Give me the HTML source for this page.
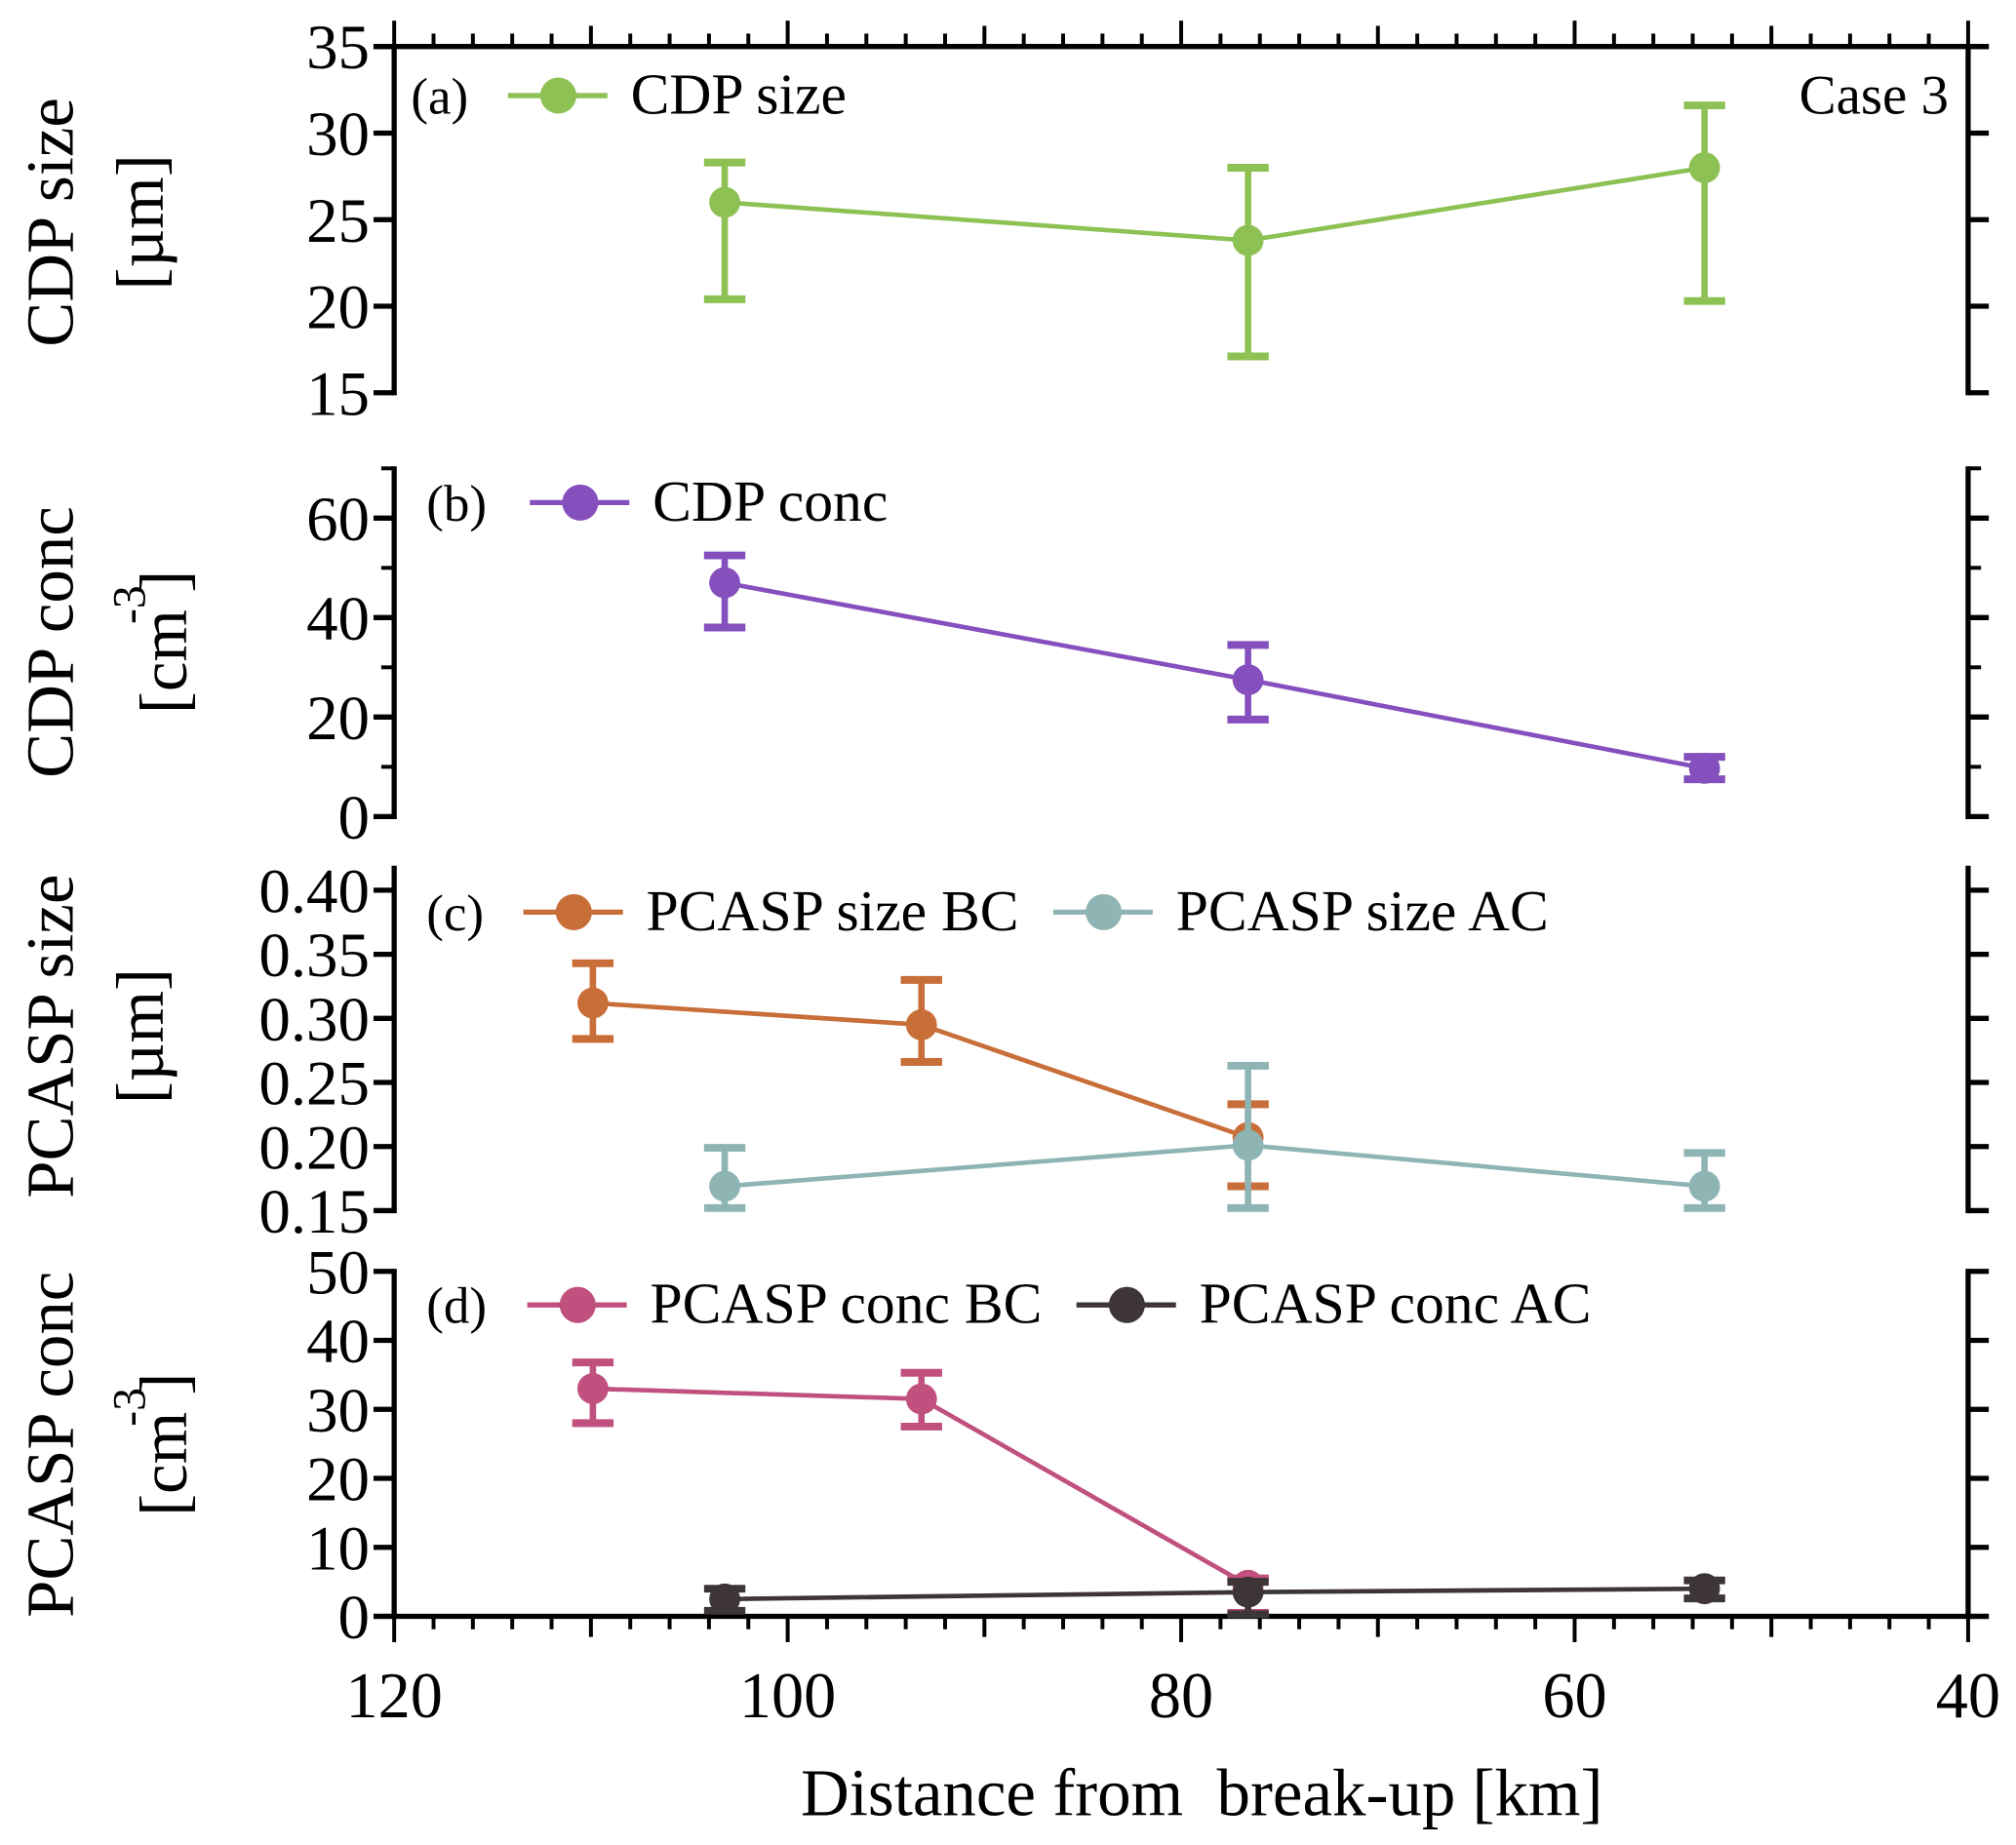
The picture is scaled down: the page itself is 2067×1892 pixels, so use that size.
<!DOCTYPE html>
<html><head><meta charset="utf-8"><style>
html,body{margin:0;padding:0;background:#fff;}
svg{display:block;font-family:"Liberation Serif",serif;}
</style></head><body>
<svg id="chart" width="2067" height="1892" viewBox="0 0 1560 1428" xmlns="http://www.w3.org/2000/svg">
<text x="930" y="1405" font-size="52" text-anchor="middle" xml:space="preserve">Distance from  break-up [km]</text>
</svg>
<script>
const xCats = [109.9, 103.2, 93.2, 76.6, 53.4];
const xTicks = [120, 100, 80, 60, 40];
const cdpSizeX = [103.2, 76.6, 53.4];
const cdpSizeY = [26, 23.8, 28];
const cdpSizeHi = [28.3, 28, 31.6];
const cdpSizeLo = [20.4, 17.1, 20.3];
const cdpConcX = [103.2, 76.6, 53.4];
const cdpConcY = [47, 27.5, 9.7];
const cdpConcHi = [52.5, 34.5, 12];
const cdpConcLo = [38, 19.5, 7.5];
const pSizeBCX = [109.9, 93.2, 76.6];
const pSizeBCY = [0.312, 0.295, 0.207];
const pSizeBCHi = [0.343, 0.330, 0.233];
const pSizeBCLo = [0.284, 0.266, 0.169];
const pSizeACX = [103.2, 76.6, 53.4];
const pSizeACY = [0.169, 0.201, 0.169];
const pSizeACHi = [0.199, 0.263, 0.195];
const pSizeACLo = [0.152, 0.152, 0.152];
const pConcBCX = [109.9, 93.2, 76.6];
const pConcBCY = [33, 31.5, 4.5];
const pConcBCHi = [36.8, 35.3, 5.5];
const pConcBCLo = [28, 27.5, 0.5];
const pConcACX = [103.2, 76.6, 53.4];
const pConcACY = [2.5, 3.5, 4];
const pConcACHi = [4, 5, 5.2];
const pConcACLo = [0.8, 0.3, 2.6];
const ticksA = [15, 20, 25, 30, 35];
const ticksB = [0, 20, 40, 60];
const ticksC = [0.15, 0.20, 0.25, 0.30, 0.35, 0.40];
const ticksD = [0, 10, 20, 30, 40, 50];

const NS = "http://www.w3.org/2000/svg";
const svg = document.getElementById('chart');
const X0 = 305, X1 = 1523;
function xs(v){ return X0 + (120 - v) * (X1 - X0) / 80; }
function mk(tag, attrs, parent){ const e = document.createElementNS(NS, tag); for (const k in attrs) e.setAttribute(k, attrs[k]); (parent||svg).appendChild(e); return e; }

const panels = [
 {name:'a', top:36, bot:304, vmin:15, vmax:35, ticks:ticksA, minor:[], fmt:v=>String(v)},
 {name:'b', top:363, bot:632, vmin:0, vmax:60, ticks:ticksB, minor:[10,30,50,70], fmt:v=>String(v)},
 {name:'c', top:672, bot:937, vmin:0.15, vmax:0.40, ticks:ticksC, minor:[], fmt:v=>v.toFixed(2)},
 {name:'d', top:984, bot:1251, vmin:0, vmax:50, ticks:ticksD, minor:[], fmt:v=>String(v)}
];
const vmaxPix = {a:36, b:401, c:689, d:984};
panels.forEach(p=>{
  const yb = p.bot, yt = vmaxPix[p.name];
  p.ys = v => yb - (v - p.vmin) * (yb - yt) / (p.vmax - p.vmin);
});

panels.forEach(p=>{
  const g = mk('g', {});
  
  
  mk('line', {x1:X0, y1:p.top-2, x2:X0, y2:p.bot+2, stroke:'#000', 'stroke-width':4}, g);
  mk('line', {x1:X1, y1:p.top-2, x2:X1, y2:p.bot+2, stroke:'#000', 'stroke-width':4}, g);
  p.ticks.forEach(t=>{
    const y = p.ys(t);
    mk('line', {x1:X0-16, y1:y, x2:X0, y2:y, stroke:'#000', 'stroke-width':4}, g);
    mk('line', {x1:X1, y1:y, x2:X1+16, y2:y, stroke:'#000', 'stroke-width':4}, g);
    const tx = mk('text', {x:X0-19, y:y+17, 'font-size':49, 'text-anchor':'end'}, g);
    tx.textContent = p.fmt(t);
    
    
  });
  p.minor.forEach(t=>{
    const y = p.ys(t);
    mk('line', {x1:X0-10, y1:y, x2:X0, y2:y, stroke:'#000', 'stroke-width':3}, g);
    mk('line', {x1:X1, y1:y, x2:X1+10, y2:y, stroke:'#000', 'stroke-width':3}, g);
  });
});
function xAxis(y, dir, labels){
  const g = mk('g', {});
  
  
  mk('line', {x1:X0-16, y1:y, x2:X1+16, y2:y, stroke:'#000', 'stroke-width':4}, g);
  for (let v = 120; v >= 40; v -= 2){
    const len = (v % 20 === 0) ? 20 : (v % 10 === 0 ? 16 : 10);
    mk('line', {x1:xs(v), y1:y, x2:xs(v), y2:y + dir*len, stroke:'#000', 'stroke-width':3}, g);
  }
  if (labels) xTicks.forEach(v=>{
    const t = mk('text', {x:xs(v), y:y+78, 'font-size':50, 'text-anchor':'middle'}, g);
    t.textContent = v;
    
    
  });
}
xAxis(36, -1, false);
xAxis(1251, 1, true);

function series(p, xsArr, ys, hi, lo, color, name){
  const g = mk('g', {});
  
  
  const pts = xsArr.map((x,i)=> xs(x) + ',' + p.ys(ys[i])).join(' ');
  mk('polyline', {points:pts, fill:'none', stroke:color, 'stroke-width':3.5}, g);
  xsArr.forEach((x,i)=>{
    const cx = xs(x), yh = p.ys(hi[i]), yl = p.ys(lo[i]);
    mk('line', {x1:cx, y1:yh, x2:cx, y2:yl, stroke:color, 'stroke-width':5}, g);
    mk('line', {x1:cx-16, y1:yh, x2:cx+16, y2:yh, stroke:color, 'stroke-width':6}, g);
    mk('line', {x1:cx-16, y1:yl, x2:cx+16, y2:yl, stroke:color, 'stroke-width':6}, g);
    const c = mk('circle', {cx:cx, cy:p.ys(ys[i]), r:12, fill:color}, g);
    
    
  });
}
const C = {green:'#8dc154', purple:'#8550bd', orange:'#c86e38', teal:'#8fb4b4', pink:'#c0507e', dark:'#3e3636'};
series(panels[0], cdpSizeX, cdpSizeY, cdpSizeHi, cdpSizeLo, C.green, 'cdp-size');
series(panels[1], cdpConcX, cdpConcY, cdpConcHi, cdpConcLo, C.purple, 'cdp-conc');
series(panels[2], pSizeBCX, pSizeBCY, pSizeBCHi, pSizeBCLo, C.orange, 'pcasp-size-bc');
series(panels[2], pSizeACX, pSizeACY, pSizeACHi, pSizeACLo, C.teal, 'pcasp-size-ac');
series(panels[3], pConcBCX, pConcBCY, pConcBCHi, pConcBCLo, C.pink, 'pcasp-conc-bc');
series(panels[3], pConcACX, pConcACY, pConcACHi, pConcACLo, C.dark, 'pcasp-conc-ac');

function label(x, y, txt, size, name, anchor){
  const t = mk('text', {x:x, y:y, 'font-size':size, 'text-anchor':anchor||'start'});
  t.textContent = txt;
  
  
  return t;
}
function legend(x, y, color, txt, name){
  const g = mk('g', {});
  
  
  mk('line', {x1:x, y1:y, x2:x+77, y2:y, stroke:color, 'stroke-width':4}, g);
  mk('circle', {cx:x+39, cy:y, r:14, fill:color}, g);
  const t = mk('text', {x:x+95, y:y+14, 'font-size':45, 'xml:space':'preserve'}, g);
  t.textContent = txt;
}
label(318, 88, '(a)', 40, 'panel-a-label');
legend(393, 74, C.green, 'CDP  size', 'cdp-size');
label(1508, 88, 'Case 3', 43, 'case-label', 'end');
label(330, 403, '(b)', 40, 'panel-b-label');
legend(410, 389, C.purple, 'CDP  conc', 'cdp-conc');
label(330, 720, '(c)', 40, 'panel-c-label');
legend(405, 706, C.orange, 'PCASP size BC', 'pcasp-size-bc');
legend(815, 706, C.teal, 'PCASP size AC', 'pcasp-size-ac');
label(330, 1024, '(d)', 40, 'panel-d-label');
legend(408, 1010, C.pink, 'PCASP  conc  BC', 'pcasp-conc-bc');
legend(833, 1010, C.dark, 'PCASP  conc  AC', 'pcasp-conc-ac');

function ytitle(cx, cy, l1, l2, sup, name){
  const g = mk('g', {transform:'translate('+cx+','+cy+') rotate(-90)'});
  
  
  const t1 = mk('text', {x:0, y:0, 'font-size':52, 'text-anchor':'middle', 'xml:space':'preserve'}, g);
  t1.textContent = l1;
  if (!sup){
    const t2 = mk('text', {x:0, y:70, 'font-size':52, 'text-anchor':'middle'}, g);
    t2.textContent = l2;
  } else {
    const t2 = mk('text', {x:0, y:88, 'font-size':52, 'text-anchor':'middle', 'xml:space':'preserve'}, g);
    t2.textContent = '[cm    ]';
    const t3 = mk('text', {x:14, y:56, 'font-size':36, 'text-anchor':'start'}, g);
    t3.textContent = '-3';
  }
}
ytitle(56, 172, 'CDP  size', '[\u00b5m]', false, 'y-axis-title-a');
ytitle(56, 497, 'CDP  conc', '', true, 'y-axis-title-b');
ytitle(56, 802, 'PCASP  size', '[\u00b5m]', false, 'y-axis-title-c');
ytitle(56, 1118, 'PCASP  conc', '', true, 'y-axis-title-d');
</script>
</body></html>
